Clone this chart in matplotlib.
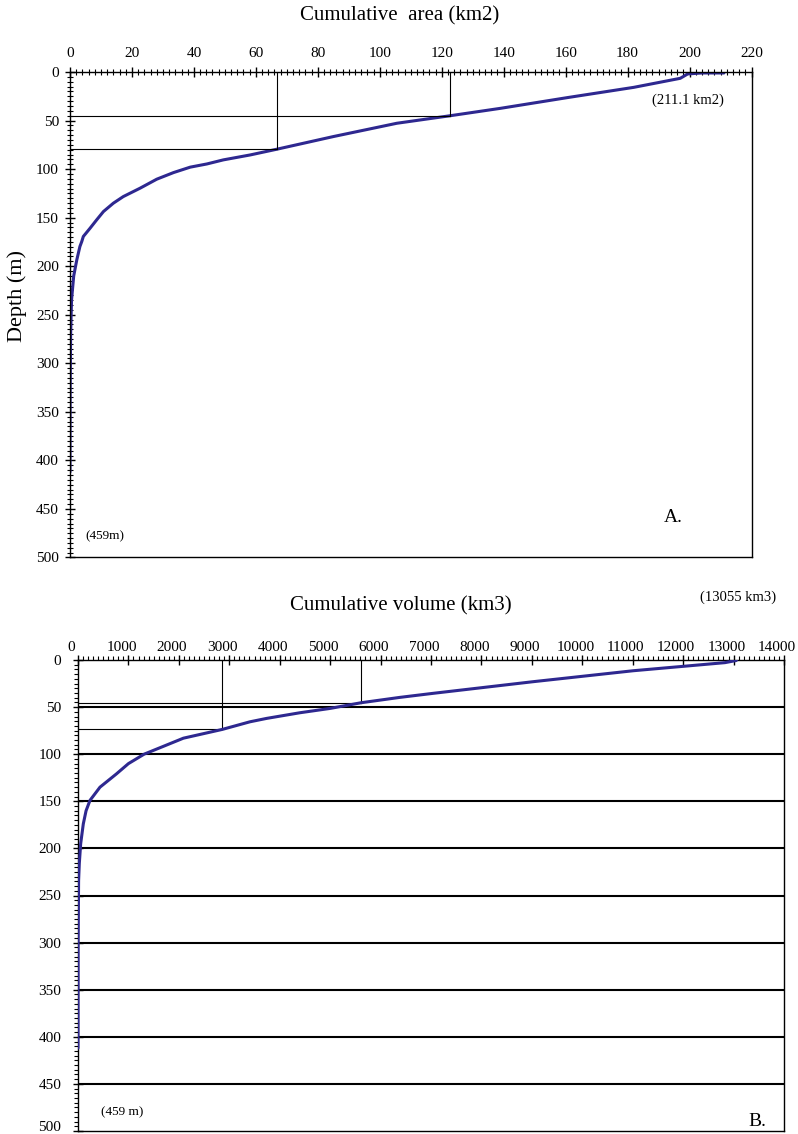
import matplotlib
matplotlib.use("Agg")
import matplotlib.pyplot as plt
from matplotlib.ticker import MultipleLocator
from matplotlib.transforms import ScaledTranslation

plt.rcParams['font.family'] = ['Liberation Serif', 'DejaVu Serif']

# ---- data: hypsometric curves ----
area_depth = [1, 1, 2, 6.5, 15.8, 26.4, 37.4, 45, 52.8, 66.5, 79.5, 85.4, 90.5,
              94.7, 98, 103.6, 110.4, 119.7, 128.3, 135.1, 143.7, 152.3, 160.8,
              169.4, 174.6, 179.7, 193.4, 210, 234.6, 270, 330, 412]
area_km2 = [211.1, 204, 199.4, 197, 182, 160.5, 139, 122.8, 105.5, 85, 66.8,
            58.2, 49.5, 44.2, 38.8, 33.4, 28, 22.6, 17.2, 14.0, 10.8, 8.6, 6.5,
            4.3, 3.8, 3.2, 2.2, 1.2, 0.5, 0.2, 0.05, 0]

vol_depth = [0.5, 2.8, 11.4, 23, 35.4, 39.7, 45.4, 51.4, 56, 62, 65.6, 73.7,
             83, 100, 110, 121, 135, 149, 160, 174, 195, 216, 234, 300, 412]
vol_km3 = [13055, 12830, 11010, 9030, 7040, 6380, 5610, 5000, 4400, 3740, 3410,
           2860, 2090, 1310, 1000, 760, 436, 238, 160, 105, 53, 26, 12, 2, 0]

# reference markers (x value, depth)
area_refs = [(122.8, 45), (66.8, 79.5)]
vol_refs = [(5610, 45.4), (2860, 73.7)]

area_xticks = list(range(0, 221, 20))
vol_xticks = list(range(0, 14001, 1000))
depth_ticks = list(range(0, 501, 50))
vol_grid = list(range(50, 451, 50))

W, H = 798, 1134
fig = plt.figure(figsize=(W / 100, H / 100), dpi=100)

curve_col = '#2e2890'

# ---- Panel A ----
axA = fig.add_axes([70 / W, 1 - 557.5 / H, (751.5 - 70) / W, (557.5 - 72) / H])
axA.plot(area_km2, area_depth, color=curve_col, lw=2.2, solid_capstyle='round',
         solid_joinstyle='round')
for xv, yv in area_refs:
    axA.plot([0, xv], [yv, yv], color='black', lw=0.8)
    axA.plot([xv, xv], [0, yv], color='black', lw=0.8)
axA.set_xlim(0, 220)
axA.set_ylim(500, 0)
axA.xaxis.tick_top()
axA.set_xticks(area_xticks)
axA.set_yticks(depth_ticks)
axA.xaxis.set_minor_locator(MultipleLocator(2))
axA.yaxis.set_minor_locator(MultipleLocator(5))
axA.tick_params(axis='both', which='major', direction='inout', length=7, width=1.0,
                labelsize=11, colors='black')
axA.tick_params(axis='both', which='minor', direction='inout', length=4, width=0.8)
axA.tick_params(axis='x', pad=5)
axA.tick_params(axis='y', pad=4.5)
for s in axA.spines.values():
    s.set_linewidth(1.0)
fig.text(17 / W, 1 - 296 / H, 'Depth (m)', rotation=90, ha='center', va='center', fontsize=16)
fig.text(400 / W, 1 - 16 / H, 'Cumulative  area (km2)', ha='center', va='center', fontsize=15)
fig.text(688 / W, 1 - 100 / H, '(211.1 km2)', ha='center', va='center', fontsize=10.5)
fig.text(105 / W, 1 - 536 / H, '(459m)', ha='center', va='center', fontsize=9.5)
fig.text(673 / W, 1 - 518 / H, 'A.', ha='center', va='center', fontsize=14)

# ---- Panel B ----
axB = fig.add_axes([78 / W, 1 - 1131 / H, (784 - 78) / W, (1131 - 660) / H])
for g in vol_grid:
    axB.axhline(g, color='black', lw=1.5, zorder=1)
axB.plot(vol_km3, vol_depth, color=curve_col, lw=2.2, zorder=3, solid_capstyle='round',
         solid_joinstyle='round')
for xv, yv in vol_refs:
    axB.plot([0, xv], [yv, yv], color='black', lw=0.8, zorder=2)
    axB.plot([xv, xv], [0, yv], color='black', lw=0.8, zorder=2)
axB.set_xlim(0, 14000)
axB.set_ylim(500, 0)
axB.xaxis.tick_top()
axB.set_xticks(vol_xticks)
axB.set_yticks(depth_ticks)
axB.xaxis.set_minor_locator(MultipleLocator(100))
axB.yaxis.set_minor_locator(MultipleLocator(5))
axB.tick_params(axis='both', which='major', direction='inout', length=7, width=1.0,
                labelsize=11, colors='black')
axB.tick_params(axis='both', which='minor', direction='out', length=3, width=0.8)
axB.tick_params(axis='x', pad=0.5)
axB.tick_params(axis='y', pad=8.5)
for s in axB.spines.values():
    s.set_linewidth(1.0)
off = ScaledTranslation(-7 / 100, 0, fig.dpi_scale_trans)
for lab in axB.get_xticklabels():
    lab.set_transform(lab.get_transform() + off)
up = ScaledTranslation(0, 5 / 100, fig.dpi_scale_trans)
ylabs = axB.get_yticklabels()
ylabs[-1].set_transform(ylabs[-1].get_transform() + up)
fig.text(401 / W, 1 - 606 / H, 'Cumulative volume (km3)', ha='center', va='center', fontsize=15)
fig.text(738 / W, 1 - 597 / H, '(13055 km3)', ha='center', va='center', fontsize=10.5)
fig.text(122 / W, 1 - 1112 / H, '(459 m)', ha='center', va='center', fontsize=9.5)
fig.text(757 / W, 1 - 1121 / H, 'B.', ha='center', va='center', fontsize=14)

fig.savefig('out.png', dpi=100)
